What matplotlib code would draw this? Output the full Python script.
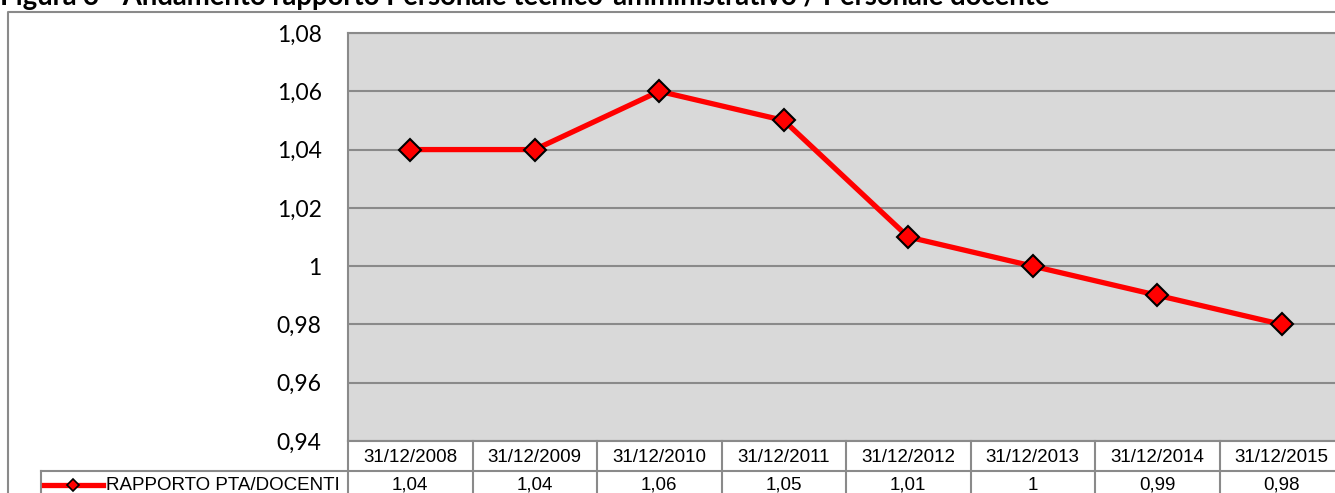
import matplotlib.pyplot as plt
from matplotlib.lines import Line2D
from matplotlib.transforms import blended_transform_factory

dates = ["31/12/2008", "31/12/2009", "31/12/2010", "31/12/2011",
         "31/12/2012", "31/12/2013", "31/12/2014", "31/12/2015"]
ratio = [1.04, 1.04, 1.06, 1.05, 1.01, 1.00, 0.99, 0.98]
ratio_labels = ["1,04", "1,04", "1,06", "1,05", "1,01", "1", "0,99", "0,98"]
yticks = [0.94, 0.96, 0.98, 1.00, 1.02, 1.04, 1.06, 1.08]
series_name = "RAPPORTO PTA/DOCENTI"
title = "Figura 3 - Andamento rapporto Personale tecnico-amministrativo / Personale docente"

W, H = 1335, 493
grey = "#8a8a8a"


def fy(px):
    return 1 - px / H


fig = plt.figure(figsize=(W / 100, H / 100), dpi=100)

# title, cut off at the top like the source
fig.text(0, fy(4.5), title, fontsize=19.8, fontweight="bold", family="Lato",
         ha="left", va="baseline", color="black")

# outer chart border
fig.add_artist(Line2D([8 / W, 8 / W, 1.01], [0, fy(12), fy(12)],
                      transform=fig.transFigure, color=grey, lw=1.5))

ax = fig.add_axes([348 / W, fy(441), 996 / W, 408 / H])
ax.set_facecolor("#d9d9d9")
x = list(range(len(dates)))
ax.plot(x, ratio, color="#ff0000", lw=3.8, marker="D", markersize=11,
        markerfacecolor="#ff0000", markeredgecolor="black", markeredgewidth=1.5,
        zorder=3)
ax.set_xlim(-0.5, len(dates) - 0.5)
ax.set_ylim(0.94, 1.08)
ax.set_yticks(yticks)
ax.set_yticklabels([("%.2f" % v).replace(".", ",").replace("1,00", "1") for v in yticks],
                   family="Lato", fontsize=16.5)
ax.tick_params(axis="y", length=0, pad=19)
ax.set_xticks([])
ax.grid(axis="y", color=grey, lw=1.5)
ax.set_axisbelow(True)
for s in ["left", "bottom", "top"]:
    ax.spines[s].set_color(grey)
    ax.spines[s].set_linewidth(1.5)
ax.spines["right"].set_visible(False)

# data table under the plot
tr = blended_transform_factory(ax.transData, fig.transFigure)
for i in range(len(dates) + 1):
    fig.add_artist(Line2D([i - 0.5, i - 0.5], [fy(441), 0], transform=tr,
                          color=grey, lw=1.5))
fig.add_artist(Line2D([41 / W, 1.01], [fy(471), fy(471)],
                      transform=fig.transFigure, color=grey, lw=1.5))
fig.add_artist(Line2D([41 / W, 41 / W], [fy(471), 0],
                      transform=fig.transFigure, color=grey, lw=1.5))
for i, (d, v) in enumerate(zip(dates, ratio_labels)):
    fig.text(i, fy(457), d, transform=tr, ha="center", va="center",
             family="Liberation Sans", fontsize=13.5)
    fig.text(i, fy(485.5), v, transform=tr, ha="center", va="center",
             family="Liberation Sans", fontsize=13.5)

# legend key inside the table
fig.add_artist(Line2D([44 / W, 103 / W], [fy(485), fy(485)],
                      transform=fig.transFigure, color="#ff0000", lw=3.8))
fig.add_artist(Line2D([73 / W], [fy(485)], transform=fig.transFigure,
                      marker="D", markersize=6, markerfacecolor="#ff0000",
                      markeredgecolor="black", markeredgewidth=1.2, lw=0))
fig.text(106 / W, fy(485.5), series_name, ha="left", va="center",
         family="Liberation Sans", fontsize=13.5)

fig.savefig("out.png", dpi=100)
